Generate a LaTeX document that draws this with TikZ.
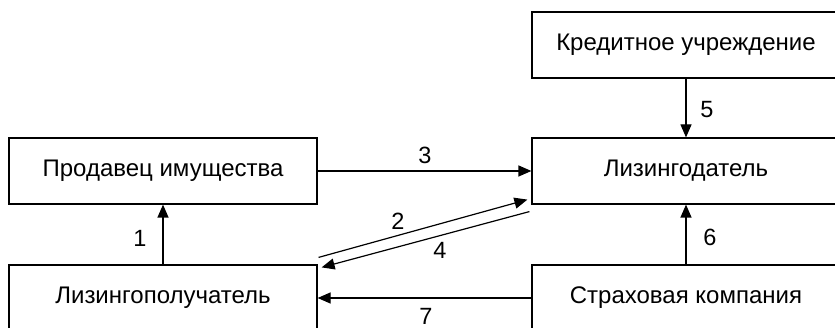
\documentclass[tikz,border=0pt]{standalone}
\usepackage{fontspec}
\setmainfont{Liberation Sans}
\usetikzlibrary{arrows.meta,calc}
\begin{document}
\begin{tikzpicture}[x=1pt,y=-1pt,
  box/.style={draw,line width=1.2pt,minimum width=308pt,minimum height=66pt,
    inner sep=0pt,font=\fontsize{24}{27}\selectfont},
  conn/.style={line width=1.2pt,-{Triangle[length=13pt,width=11pt]}},
  num/.style={font=\fontsize{23.5}{26}\selectfont,inner sep=0pt}]
\useasboundingbox (0,0) rectangle (835,328);
\clip (0,0) rectangle (835,328);
% participants
\node[box] (kr) at (686,45)  {Кредитное учреждение};
\node[box] (pr) at (163,171) {Продавец имущества};
\node[box] (ld) at (686,171) {Лизингодатель};
\node[box] (lp) at (163,298) {Лизингополучатель};
\node[box] (sk) at (686,298) {Страховая компания};
% flows
\draw[conn] (lp.north) -- (pr.south);
\draw[conn] (pr.east) -- (ld.west);
\draw[conn] (kr.south) -- (ld.north);
\draw[conn] (sk.north) -- (ld.south);
\draw[conn] (sk.west) -- (lp.east);
\draw[conn] ($(lp.north east)+(1,-7)$) -- ($(ld.south west)+(-4,-5)$);
\draw[conn] ($(ld.south west)+(-2,7)$) -- ($(lp.north east)+(4,3)$);
% labels
\node[num] (n1) at (140,238) {1};
\node[num] (n2) at (398,221) {2};
\node[num] (n3) at (425,155) {3};
\node[num] (n4) at (440,250) {4};
\node[num] (n5) at (707,110) {5};
\node[num] (n6) at (710,237) {6};
\node[num] (n7) at (426,316.5) {7};
\end{tikzpicture}
\end{document}
